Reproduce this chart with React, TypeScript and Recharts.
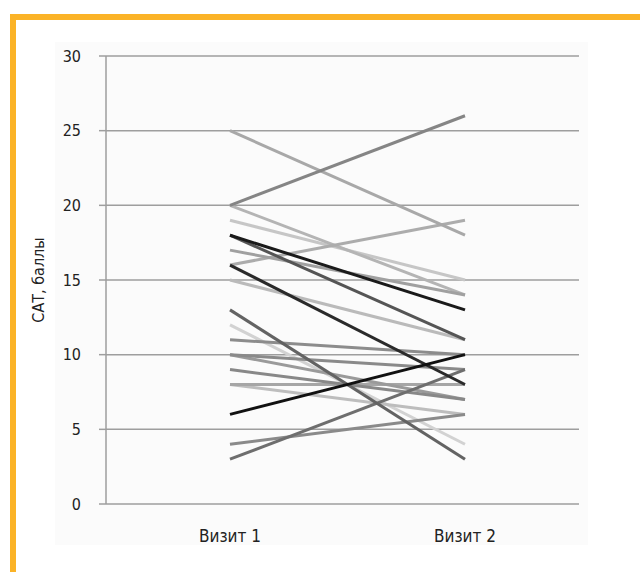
import { CartesianGrid, Line, LineChart, XAxis, YAxis } from "recharts"

const visits = ["Визит 1", "Визит 2"]

// CAT score of each patient at the first and second visit
const visit1Scores = [25, 20, 20, 19, 18, 18, 17, 16, 16, 15, 13, 12, 11, 10, 10, 9, 8, 8, 6, 4, 3]
const visit2Scores = [18, 26, 14, 15, 13, 11, 14, 19, 8, 11, 3, 4, 10, 9, 7, 7, 8, 6, 10, 6, 9]

const yTicks = [0, 5, 10, 15, 20, 25, 30]

const lineColors = [
  "#a8a8a8", "#858585", "#b4b4b4", "#c6c6c6", "#1a1a1a", "#555555", "#a0a0a0",
  "#acacac", "#2a2a2a", "#bababa", "#636363", "#d2d2d2", "#8c8c8c", "#8a8a8a",
  "#9a9a9a", "#888888", "#a6a6a6", "#bdbdbd", "#111111", "#8a8a8a", "#6e6e6e",
]

const font = "'Liberation Sans Narrow', 'DejaVu Sans Condensed', 'Arial Narrow', 'Liberation Sans', sans-serif"

const data = visits.map((visit, i) => {
  const row: Record<string, string | number> = { visit }
  visit1Scores.forEach((v, p) => {
    row["p" + p] = i === 0 ? v : visit2Scores[p]
  })
  return row
})

// light lines first so the dark ones sit on top
const drawOrder = lineColors
  .map((c, i) => ({ i, lum: parseInt(c.slice(1, 3), 16) }))
  .sort((a, b) => b.lum - a.lum)
  .map((d) => d.i)

export default function App() {
  return (
    <div style={{ position: "absolute", left: 0, top: 0, width: 640, height: 572, background: "#fff" }}>
      <div
        style={{
          position: "absolute",
          left: 10,
          top: 14,
          width: 630,
          height: 558,
          borderTop: "6px solid #fbb327",
          borderLeft: "6px solid #fbb327",
          boxSizing: "border-box",
        }}
      />
      <div style={{ position: "absolute", left: 55, top: 42, width: 533, height: 503, background: "#fbfbfb" }} />
      <div style={{ position: "absolute", left: 0, top: 0 }}>
        <LineChart width={640} height={572} data={data} margin={{ top: 56, right: 61, bottom: 38, left: 0 }}>
          <CartesianGrid vertical={false} stroke="#9e9e9e" strokeWidth={1.5} />
          <XAxis
            dataKey="visit"
            axisLine={false}
            tickLine={false}
            height={30}
            padding={{ left: 124, right: 114 }}
            tickMargin={20}
            tick={{ fill: "#222", fontSize: 17, fontFamily: font }}
          />
          <YAxis
            domain={[0, 30]}
            ticks={yTicks}
            width={106}
            axisLine={{ stroke: "#9e9e9e", strokeWidth: 1.5 }}
            tickLine={{ stroke: "#9e9e9e", strokeWidth: 1.5 }}
            tickSize={7}
            tickMargin={18}
            tick={{ fill: "#222", fontSize: 16, fontFamily: font }}
            label={{
              content: ({ viewBox }: any) => {
                const cx = viewBox.x + 38
                const cy = viewBox.y + viewBox.height / 2
                return (
                  <text
                    x={cx}
                    y={cy}
                    transform={`rotate(-90 ${cx} ${cy})`}
                    textAnchor="middle"
                    dominantBaseline="central"
                    fill="#222"
                    fontSize={16}
                    fontFamily={font}
                  >
                    САТ, баллы
                  </text>
                )
              },
            }}
          />
          {drawOrder.map((p) => (
            <Line
              key={p}
              dataKey={"p" + p}
              type="linear"
              stroke={lineColors[p]}
              strokeWidth={3}
              dot={false}
              activeDot={false}
              isAnimationActive={false}
            />
          ))}
        </LineChart>
      </div>
    </div>
  )
}
